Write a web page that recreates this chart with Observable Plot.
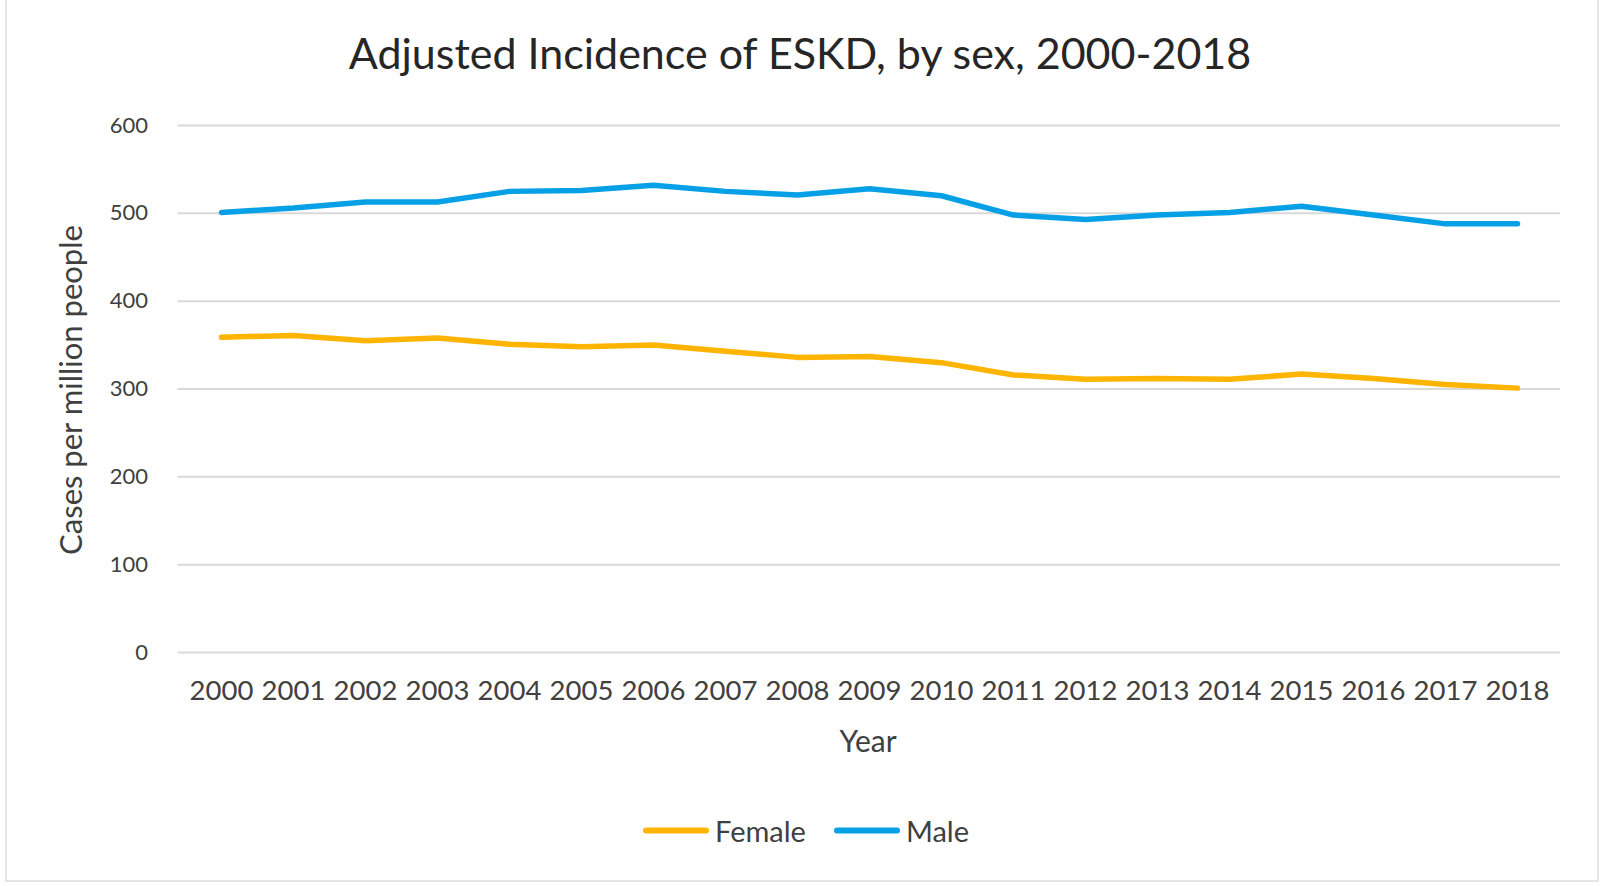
<!DOCTYPE html>
<html>
<head>
<meta charset="utf-8">
<script src="https://cdn.jsdelivr.net/npm/d3@7"></script>
<script src="https://cdn.jsdelivr.net/npm/@observablehq/plot@0.6"></script>
<style>
  html, body { margin: 0; padding: 0; background: #fff; }
  #wrap { position: relative; width: 1600px; height: 886px; overflow: hidden; font-family: Lato, "Open Sans", sans-serif; color: #404040; }
  #frame { position: absolute; left: 5px; top: -4px; width: 1594px; height: 886px; border: 2px solid #e6e6e6; box-sizing: border-box; }
  #title { position: absolute; left: 0; width: 1600px; top: 27px; text-align: center; font-size: 43px; color: #262626; }
  #chart { position: absolute; left: 0; top: 100px; }
  #ylab { position: absolute; left: 70px; top: 390px; transform: translate(-50%, -50%) rotate(-90deg); font-size: 31px; white-space: nowrap; }
  #xlab { position: absolute; left: 868px; top: 740px; transform: translate(-50%, -50%); font-size: 30px; }
  #legend { position: absolute; top: 830px; left: 0; width: 1600px; display: flex; justify-content: center; align-items: center; transform: translate(6px, -50%); font-size: 29px; }
  .item { display: flex; align-items: center; margin: 0 14px; }
  .sw { width: 66px; height: 6px; border-radius: 3px; margin-right: 6px; }
</style>
</head>
<body>
<div id="wrap">
  <div id="frame"></div>
  <div id="title">Adjusted Incidence of ESKD, by sex, 2000-2018</div>
  <div id="chart"></div>
  <div id="ylab">Cases per million people</div>
  <div id="xlab">Year</div>
  <div id="legend"></div>
</div>
<script>
const years  = [2000, 2001, 2002, 2003, 2004, 2005, 2006, 2007, 2008, 2009, 2010, 2011, 2012, 2013, 2014, 2015, 2016, 2017, 2018];
const female = [359, 361, 355, 358, 351, 348, 350, 343, 336, 337, 330, 316, 311, 312, 311, 317, 312, 305, 301];
const male   = [501, 506, 513, 513, 525, 526, 532, 525, 521, 528, 520, 498, 493, 498, 501, 508, 498, 488, 488];
const series = ["Female", "Male"];
const colors = ["#FFB400", "#05A0E6"];
const yTicks = [0, 100, 200, 300, 400, 500, 600];

const data = years.flatMap((yr, i) => [
  {year: yr, sex: "Female", value: female[i]},
  {year: yr, sex: "Male", value: male[i]}
]);

const chart = Plot.plot({
  width: 1600,
  height: 680,
  marginLeft: 177.6,
  marginRight: 40,
  marginTop: 25,
  marginBottom: 128,
  style: {fontFamily: "Lato, 'Open Sans', sans-serif", fontSize: "22px", color: "#404040", background: "transparent"},
  x: {type: "point", domain: years, padding: 0.5},
  y: {domain: [0, 600]},
  color: {domain: series, range: colors},
  marks: [
    Plot.gridY(yTicks, {stroke: "#d9d9d9", strokeOpacity: 1, strokeWidth: 2}),
    Plot.axisY(yTicks, {tickSize: 0, tickPadding: 30, label: null, fontSize: 22, fill: "#404040"}),
    Plot.axisX(years, {tickSize: 0, tickPadding: 28, label: null, fontSize: 27.5, fill: "#404040", tickFormat: d => String(d)}),
    Plot.line(data, {x: "year", y: "value", stroke: "sex", strokeWidth: 5.5, strokeLinejoin: "round", strokeLinecap: "round"})
  ]
});
document.getElementById("chart").appendChild(chart);

const legend = document.getElementById("legend");
series.forEach((s, i) => {
  const it = document.createElement("div");
  it.className = "item";
  const sw = document.createElement("div");
  sw.className = "sw";
  sw.style.background = colors[i];
  const t = document.createElement("span");
  t.textContent = s;
  it.appendChild(sw);
  it.appendChild(t);
  legend.appendChild(it);
});
</script>
</body>
</html>
